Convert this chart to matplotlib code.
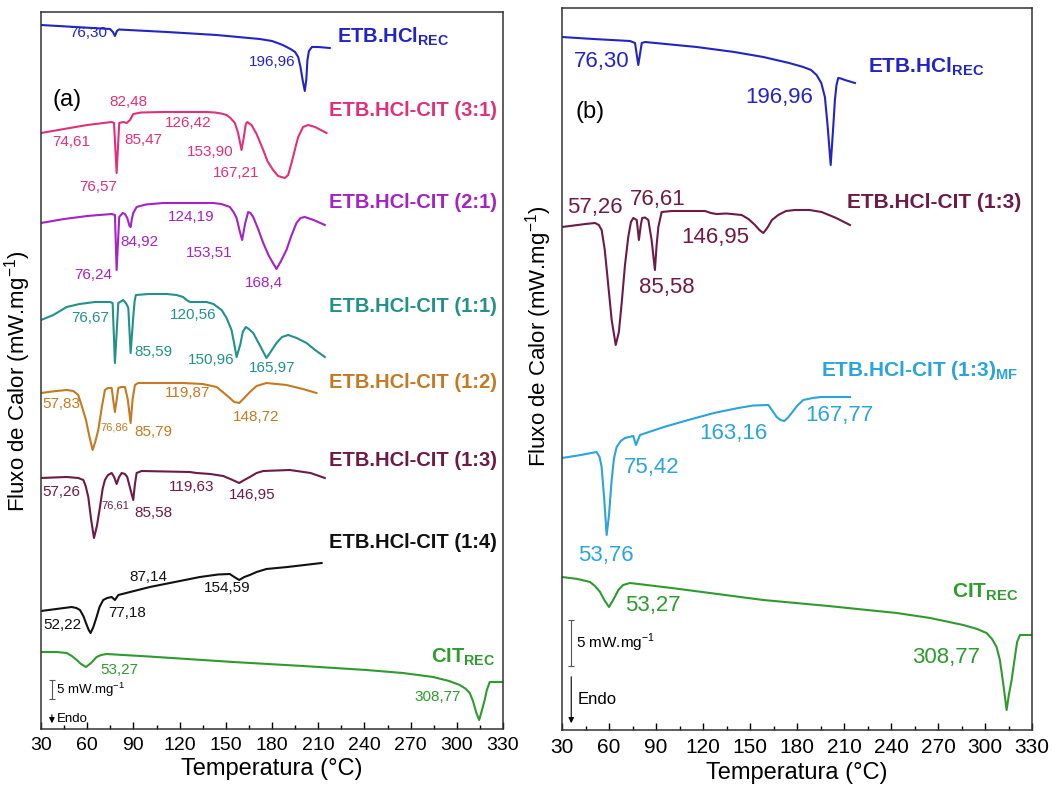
import matplotlib.pyplot as plt
from matplotlib.ticker import MultipleLocator

plt.rcParams['font.family'] = ['Liberation Sans', 'DejaVu Sans']
plt.rcParams['mathtext.fontset'] = 'custom'
plt.rcParams['mathtext.rm'] = 'Liberation Sans'
plt.rcParams['mathtext.bf'] = 'Liberation Sans:bold'

# DSC traces: temperature (°C) and stacked heat-flow position (arbitrary offset units)
# --- panel (a) ---
etb_rec_a_T = [30, 74.8, 76.7, 78, 79.3, 80.6, 111.8, 144, 172, 180, 187, 192, 195, 197, 198.5,
               200, 201.3, 202.3, 203, 204, 205.9, 210, 217.5]
etb_rec_a_y = [704, 700, 697, 693, 698, 699.5, 697, 694, 690, 688, 684, 680, 677, 672, 662,
               648, 638, 650, 669, 678, 682, 682, 681]

cit31_T = [30, 45, 60, 75.9, 77.4, 79.1, 80.8, 83.4, 85.6, 87.8, 89.9, 95, 109.4, 137.5, 143, 147,
           150.5, 153, 155.9, 158, 160.2, 161.5, 163, 164, 166.7, 170, 174.3, 177, 180.7, 184,
           188.3, 190.5, 192.5, 194.8, 197, 200.2, 203.5, 208, 215.4]
cit31_y = [596, 600, 604, 607, 606, 556, 606, 607, 606, 609, 615, 616.5, 617, 617, 616.5, 615.5,
           614, 611, 606, 596, 579, 590, 605, 607, 604, 595, 579, 568, 559, 553,
           551, 554, 565, 579, 592, 602, 604, 602, 596]

cit21_T = [30, 45, 60, 75.9, 78, 79.1, 80.8, 83, 84.5, 86, 87.5, 88.2, 89, 89.9, 92.1, 98, 109.4,
           141.8, 147, 150, 152.6, 155, 157, 159, 160.6, 162.5, 164.5, 166, 167.8, 171, 174.3,
           178, 182.9, 185.5, 189.4, 192.5, 195.9, 198.5, 201.3, 207, 214.3]
cit21_y = [506, 510, 513, 515, 514, 459, 512, 516, 515, 511, 503, 502, 510, 516, 522, 524.5, 526,
           526, 525, 523.5, 522, 517, 511, 498, 489, 505, 517, 516, 512, 500, 486,
           473, 460, 467, 479, 493, 506, 511, 512, 509, 504]

cit11_T = [30, 38, 46.7, 55, 65, 74.8, 76.5, 78, 80.2, 83.4, 85.5, 86.7, 88.2, 89.9, 90.8, 91.6,
           100, 111.6, 118, 122.3, 124.5, 126.7, 130, 137.5, 142, 147.3, 150.5, 153.7, 155.5,
           157, 159.5, 161, 163, 165, 167.8, 172, 176.4, 179.5, 182.9, 186.5, 190.5, 196,
           202.4, 208, 214.3]
cit11_y = [409, 414, 422, 425, 427, 427, 426, 366, 426, 429, 425, 421, 376, 412, 428, 434,
           435, 435, 434, 432, 429, 427, 427, 427, 425, 419, 411, 399, 385,
           372, 385, 397, 402, 400, 396, 384, 371, 378, 386, 392, 394, 391,
           386, 379, 372]

cit12_T = [30, 40, 46.7, 51, 54.2, 56.5, 59.2, 61.5, 63.5, 65.2, 67.2, 69.5, 71.5, 73.5, 75.9,
           76.8, 78, 79.2, 80.2, 82, 84.5, 86.3, 88.2, 89.5, 91, 93.1, 122.3, 135, 144, 148,
           152.6, 155.5, 158.7, 162, 165.6, 170, 176.4, 189.4, 200, 208.9]
cit12_y = [336, 338, 339, 338, 334, 323, 309, 292, 279, 287, 299, 322, 339, 341, 341,
           330, 317, 330, 341, 342, 342, 330, 306, 330, 344, 346, 346, 345, 342, 337,
           331, 327, 326, 331, 337, 343, 346, 344, 340, 336]

cit13_a_T = [30, 46.7, 54.2, 57.5, 59, 60.7, 62.5, 64.4, 66.3, 68.3, 70, 71.5, 73.5, 75.9, 77.5,
             79.1, 80.7, 82.4, 84.5, 86, 88, 89.9, 91, 92.1, 95.3, 126.7, 131, 140, 148.3, 153,
             158.7, 162, 165.6, 170, 174.3, 191.6, 205, 214.3]
cit13_a_y = [251, 252, 251, 249, 243, 232, 210, 191, 203, 222, 240, 249, 254, 256, 252,
             245, 252, 256, 255, 252, 240, 229, 245, 256, 258, 257, 256, 255, 253, 250,
             246, 249, 252, 256, 258, 259, 256, 251]

cit14_T = [30, 40, 49.9, 53, 55.3, 57.5, 59.2, 61, 62.2, 64, 66.1, 68, 70.4, 73, 75.9, 78, 80.2,
           100.7, 133.2, 145, 152.6, 155.5, 158.7, 162, 165.6, 170, 176.4, 190, 212.2]
cit14_y = [118, 120, 122, 121, 119, 113, 106, 99, 96, 102, 112, 122, 129, 131, 132, 129, 134,
           142, 152, 154.5, 155, 152, 149, 152, 154, 157, 160, 162, 166]

cit_rec_a_T = [30, 40, 46.7, 50, 53.2, 56, 59.2, 62.5, 66.1, 69, 72.6, 100, 154.8, 200, 241.3, 265,
               284.6, 295, 301.9, 305.5, 308.4, 310.5, 312.5, 314.5, 316, 318.1, 319.5, 321.4, 330]
cit_rec_a_y = [77, 77, 76, 73, 69, 65, 62, 66, 72, 74, 75, 72.5, 67, 63, 59, 56,
               52, 48, 44, 40.5, 36, 28, 17, 9, 17, 29, 39, 47, 47]

# --- panel (b) ---
etb_rec_b_T = [30, 50, 73.4, 76.6, 78.7, 80.9, 83, 116, 140, 158.5, 175, 184, 189, 192.5, 195.5,
               197.8, 199.5, 201.5, 203, 204.2, 205.2, 206.3, 208, 210.6, 217]
etb_rec_b_y = [693, 691, 689, 687, 665, 687, 688, 683, 678, 673, 667, 663, 660, 655, 647,
               633, 605, 565, 600, 630, 645, 652, 651.5, 650, 647]

cit13_b_T = [30, 45, 51.1, 53.5, 55.3, 57.3, 59.2, 61.7, 64.3, 66.3, 68.1, 70.2, 72.3, 74, 75.5,
             77.7, 79.1, 80.3, 81.2, 83, 85.1, 87.2, 89.3, 90.4, 91.5, 93.6, 100, 121.3, 125,
             128.7, 135, 144.7, 149, 153.2, 156, 158.5, 161, 164, 168, 173, 178.7, 188, 195.7,
             205, 213.8]
cit13_b_y = [503, 506, 507, 505, 500, 480, 450, 410, 385, 398, 427, 465, 493, 508, 512,
             510, 490, 505, 512, 512.5, 510, 490, 460, 485, 503, 518, 519, 519, 517,
             516, 516.5, 515, 511, 505, 500, 497, 502, 510, 515, 519, 520, 520, 518,
             512, 505]

mf13_T = [30, 42, 52.1, 54, 55.3, 57, 58.5, 60, 61.7, 63.2, 64.9, 67.5, 70.2, 75.5, 77.2, 79.8,
          95, 110.6, 127, 142.5, 152, 161.7, 164, 167, 169.5, 171.9, 174, 176.6, 180, 184, 190,
          195.7, 213.8]
mf13_y = [272, 275, 278, 273, 263, 230, 195, 215, 250, 272, 283, 289, 292, 294, 285, 295,
          303, 310, 317, 322, 324.5, 325, 320, 313, 310, 309, 312, 317, 324, 330, 332,
          333, 333]

cit_rec_b_T = [30, 40, 47.9, 51, 54.3, 57, 60, 63, 66, 69, 73.4, 100, 158.5, 200, 243.6, 265,
               286.1, 295, 301, 304.5, 307.4, 309.5, 311.5, 313.8, 315.2, 317, 319, 320.5,
               322.3, 330]
cit_rec_b_y = [153, 151, 148, 144, 138, 130, 123, 131, 140, 145, 147, 142, 130, 124, 117, 112,
               105, 101, 97, 91, 83, 70, 48, 20, 35, 50, 72, 88,
               95, 95]

c_etb = '#2424c4'
c_31 = '#e0307c'
c_21 = '#a323c6'
c_11 = '#21918a'
c_12 = '#c47a22'
c_13 = '#6e1a48'
c_14 = '#111111'
c_cit = '#2e9b2e'
c_mf = '#2ba4dc'

fig = plt.figure(figsize=(10.56, 7.96), dpi=100)
ax_a = fig.add_axes([41 / 1056, 67 / 796, 462 / 1056, 717 / 796])
ax_b = fig.add_axes([562 / 1056, 66 / 796, 470 / 1056, 722 / 796])


def setup(ax, ytop, tick_size, label_y):
    ax.set_xlim(30, 330)
    ax.set_ylim(0, ytop)
    ax.xaxis.set_major_locator(MultipleLocator(30))
    ax.xaxis.set_minor_locator(MultipleLocator(15))
    ax.tick_params(axis='x', which='major', direction='in', length=5, width=1, labelsize=tick_size, pad=6)
    ax.tick_params(axis='x', which='minor', direction='in', length=3, width=1)
    ax.set_yticks([])
    for s in ax.spines.values():
        s.set_linewidth(1.1)
        s.set_color('#333333')
    ax.set_xlabel('Temperatura (°C)', fontsize=17, labelpad=3)
    ax.set_ylabel('Fluxo de Calor (mW.mg$^{-1}$)', fontsize=16)
    ax.yaxis.set_label_coords(-0.018, label_y)


setup(ax_a, 717, 14, 0.485)
setup(ax_b, 722, 15, 0.546)

lw = 1.5
ax_a.plot(etb_rec_a_T, etb_rec_a_y, color=c_etb, lw=lw)
ax_a.plot(cit31_T, cit31_y, color=c_31, lw=lw)
ax_a.plot(cit21_T, cit21_y, color=c_21, lw=lw)
ax_a.plot(cit11_T, cit11_y, color=c_11, lw=lw)
ax_a.plot(cit12_T, cit12_y, color=c_12, lw=lw)
ax_a.plot(cit13_a_T, cit13_a_y, color=c_13, lw=lw)
ax_a.plot(cit14_T, cit14_y, color=c_14, lw=lw)
ax_a.plot(cit_rec_a_T, cit_rec_a_y, color=c_cit, lw=lw)

ax_b.plot(etb_rec_b_T, etb_rec_b_y, color=c_etb, lw=lw)
ax_b.plot(cit13_b_T, cit13_b_y, color=c_13, lw=lw)
ax_b.plot(mf13_T, mf13_y, color=c_mf, lw=lw)
ax_b.plot(cit_rec_b_T, cit_rec_b_y, color=c_cit, lw=lw)

# sample names
names_a = [
    (r'ETB.HCl$_{\mathbf{REC}}$', 222, 692, c_etb, 'left'),
    ('ETB.HCl-CIT (3:1)', 326, 619, c_31, 'right'),
    ('ETB.HCl-CIT (2:1)', 326, 527, c_21, 'right'),
    ('ETB.HCl-CIT (1:1)', 326, 422, c_11, 'right'),
    ('ETB.HCl-CIT (1:2)', 326, 346, c_12, 'right'),
    ('ETB.HCl-CIT (1:3)', 326, 269, c_13, 'right'),
    ('ETB.HCl-CIT (1:4)', 326, 186, c_14, 'right'),
    (r'CIT$_{\mathbf{REC}}$', 325, 72, c_cit, 'right'),
]
for txt, x, y, c, ha in names_a:
    ax_a.text(x, y, txt, color=c, fontsize=14.5, fontweight='bold', ha=ha, va='center')

names_b = [
    (r'ETB.HCl$_{\mathbf{REC}}$', 225, 663, c_etb, 'left'),
    ('ETB.HCl-CIT (1:3)', 323, 528, c_13, 'right'),
    (r'ETB.HCl-CIT (1:3)$_{\mathbf{MF}}$', 321, 360, c_mf, 'right'),
    (r'CIT$_{\mathbf{REC}}$', 321, 138, c_cit, 'right'),
]
for txt, x, y, c, ha in names_b:
    ax_b.text(x, y, txt, color=c, fontsize=15, fontweight='bold', ha=ha, va='center')

# peak temperatures
peaks_a = [
    ('76,30', 60.5, 696, c_etb, 11), ('196,96', 179.9, 667, c_etb, 11),
    ('82,48', 86.5, 627, c_31, 11), ('74,61', 49.5, 587, c_31, 11),
    ('85,47', 96.8, 589, c_31, 11), ('126,42', 125.4, 606, c_31, 11),
    ('153,90', 139.7, 577, c_31, 11), ('167,21', 156.5, 556, c_31, 11),
    ('76,57', 67, 542, c_31, 11),
    ('124,19', 127.3, 512, c_21, 11), ('84,92', 94.2, 487, c_21, 11),
    ('153,51', 139, 476, c_21, 11), ('76,24', 63.7, 454, c_21, 11),
    ('168,4', 174.7, 446, c_21, 11),
    ('76,67', 61.8, 411, c_11, 11), ('120,56', 128.6, 414, c_11, 11),
    ('85,59', 102.7, 377, c_11, 11), ('150,96', 140.3, 369, c_11, 11),
    ('165,97', 179.9, 361, c_11, 11),
    ('57,83', 43, 325, c_12, 11), ('119,87', 125.4, 336, c_12, 11),
    ('148,72', 169.5, 312, c_12, 11), ('76,86', 77.4, 302, c_12, 8),
    ('85,79', 102.7, 297, c_12, 11),
    ('57,26', 43, 237, c_13, 11), ('119,63', 128, 242, c_13, 11),
    ('146,95', 166.9, 234, c_13, 11), ('76,61', 78, 224, c_13, 8),
    ('85,58', 103.3, 216, c_13, 11),
    ('87,14', 99.4, 152, c_14, 11), ('154,59', 150.7, 141, c_14, 11),
    ('52,22', 43.6, 104, c_14, 11), ('77,18', 85.8, 116, c_14, 11),
    ('53,27', 80.6, 59, c_cit, 11), ('308,77', 287.6, 32, c_cit, 11),
]
for txt, x, y, c, fs in peaks_a:
    ax_a.text(x, y, txt, color=c, fontsize=fs, ha='center', va='center')

peaks_b = [
    ('76,30', 55.5, 668, c_etb), ('196,96', 168.5, 633, c_etb),
    ('57,26', 51.1, 522, c_13), ('76,61', 91.3, 530, c_13),
    ('85,58', 97, 442, c_13), ('146,95', 127.6, 492, c_13),
    ('75,42', 87.4, 262, c_mf), ('163,16', 139.1, 297, c_mf),
    ('167,77', 206.8, 315, c_mf), ('53,76', 58.1, 175, c_mf),
    ('53,27', 88.1, 125, c_cit), ('308,77', 275, 73, c_cit),
]
for txt, x, y, c in peaks_b:
    ax_b.text(x, y, txt, color=c, fontsize=16, ha='center', va='center')

ax_a.text(46.9, 629, '(a)', fontsize=17, ha='center', va='center')
ax_b.text(47.9, 618, '(b)', fontsize=17, ha='center', va='center')

# scale bar and endo direction
ax_a.errorbar([36.9], [39.5], yerr=[9.5], color='#555555', lw=0.8, capsize=2, capthick=0.8)
ax_a.text(39.5, 39, '5 mW.mg$^{-1}$', fontsize=9.5, ha='left', va='center')
ax_a.annotate('', xy=(37.1, 3), xytext=(37.1, 17),
              arrowprops=dict(arrowstyle='-|>', color='k', lw=0.8, mutation_scale=8))
ax_a.text(40.2, 10, 'Endo', fontsize=9.5, ha='left', va='center')

ax_b.errorbar([35.6], [87], yerr=[23], color='#555555', lw=0.8, capsize=2, capthick=0.8)
ax_b.text(38.9, 87, '5 mW.mg$^{-1}$', fontsize=11, ha='left', va='center')
ax_b.annotate('', xy=(35.9, 4), xytext=(35.9, 56),
              arrowprops=dict(arrowstyle='-|>', color='k', lw=0.8, mutation_scale=8))
ax_b.text(40.2, 30, 'Endo', fontsize=12, ha='left', va='center')

fig.savefig('out.png', dpi=100)
